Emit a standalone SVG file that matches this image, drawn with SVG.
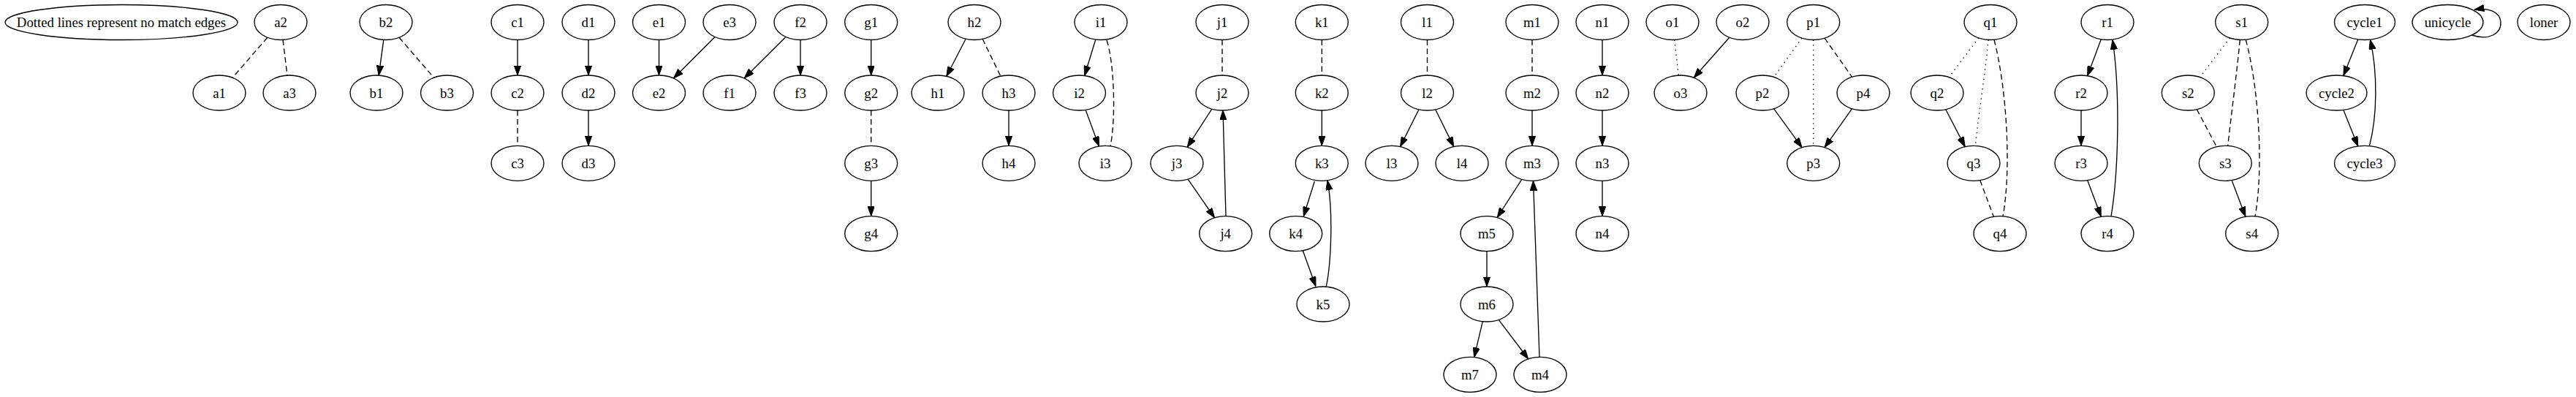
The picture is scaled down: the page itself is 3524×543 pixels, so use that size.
<svg xmlns="http://www.w3.org/2000/svg" width="3524" height="543" viewBox="0 0 3524 543">
<style>
.node ellipse{fill:#ffffff;stroke:#000000;stroke-width:1.34}
.node text{font-family:"Liberation Serif","Times New Roman",serif;font-size:18.8px;fill:#000000;text-anchor:middle}
#edges path{fill:none;stroke:#000000;stroke-width:1.34}
#edges .arr{marker-end:url(#ah)}
#edges .dash{stroke-dasharray:7.5,4.5}
#edges .dot{stroke-dasharray:1.4,5.3}
</style>
<defs>
<marker id="ah" viewBox="0 0 13.4 9.4" refX="13.4" refY="4.7" markerWidth="13.4" markerHeight="9.4" markerUnits="userSpaceOnUse" orient="auto">
<path d="M0,0 L13.4,4.7 L0,9.4 z" fill="#000000" stroke="#000000" stroke-width="1"/>
</marker>
</defs>
<rect width="3524" height="543" fill="#ffffff"/>
<g id="edges">
<path class="dash" d="M365.9,51.3 L318.1,106.2"/>
<path class="dash" d="M387,54.4 L393,103.1"/>
<path class="arr" d="M524.8,54.4 L518.2,103.1"/>
<path class="dash" d="M546,51.3 L593.5,106.2"/>
<path class="arr" d="M708,54.5 L708,103"/>
<path class="dash" d="M708,151 L708,199.3"/>
<path class="arr" d="M805,54.5 L805,103"/>
<path class="arr" d="M805,151 L805,199.3"/>
<path class="arr" d="M901.5,54.5 L901.5,103"/>
<path class="arr" d="M978,50.5 L921.5,107"/>
<path class="arr" d="M1074.9,50.5 L1018.1,107"/>
<path class="arr" d="M1095,54.5 L1095,103"/>
<path class="arr" d="M1191.7,54.5 L1191.7,103"/>
<path class="dash" d="M1191.7,151 L1191.7,199.3"/>
<path class="arr" d="M1191.7,247.3 L1191.7,295.6"/>
<path class="arr" d="M1321.2,53.2 L1294.8,104.3"/>
<path class="dash" d="M1344.1,53.3 L1368.9,104.2"/>
<path class="arr" d="M1380,151 L1380,199.3"/>
<path class="arr" d="M1498.8,54 L1483.7,103.5"/>
<path class="arr" d="M1485.1,150.3 L1503.4,200"/>
<path class="dash" d="M1514,55 C1524,85 1527,160 1519,200"/>
<path class="dash" d="M1672,54.5 L1672,103"/>
<path class="arr" d="M1657.8,149.1 L1624.2,201.2"/>
<path class="arr" d="M1625.1,245.1 L1661.6,297.8"/>
<path class="arr" d="M1677,295.6 L1673,151"/>
<path class="dash" d="M1808.3,54.5 L1808.3,103"/>
<path class="arr" d="M1808.3,151 L1808.3,199.3"/>
<path class="arr" d="M1798.3,248 L1783.3,296"/>
<path class="arr" d="M1782.3,342.7 L1800,391.7"/>
<path class="arr" d="M1814.3,391.7 C1821,360 1824,290 1816,246.7"/>
<path class="dash" d="M1952.5,54.5 L1952.5,103"/>
<path class="arr" d="M1941,149.7 L1915.5,200.6"/>
<path class="arr" d="M1963.7,149.7 L1988.8,200.6"/>
<path class="dash" d="M2096,54.5 L2096,103"/>
<path class="arr" d="M2096,151 L2096,199.3"/>
<path class="arr" d="M2081.8,245.4 L2048.2,297.5"/>
<path class="arr" d="M2034,343.6 L2034,392"/>
<path class="arr" d="M2028.3,439.7 L2016.7,488.7"/>
<path class="arr" d="M2050.2,437.4 L2090.8,491"/>
<path class="arr" d="M2106,488.4 L2097.5,247.3"/>
<path class="arr" d="M2192,54.5 L2192,103"/>
<path class="arr" d="M2192,151 L2192,199.3"/>
<path class="arr" d="M2192,247.3 L2192,295.6"/>
<path class="dot" d="M2290.7,54.5 L2296.3,103"/>
<path class="arr" d="M2365.8,51.2 L2317.2,106.3"/>
<path class="dot" d="M2465.1,52.1 L2426.6,105.4"/>
<path class="dot" d="M2480.7,54.5 L2480.7,199.3"/>
<path class="dash" d="M2496.1,52.2 L2533.6,105.3"/>
<path class="arr" d="M2426.6,148.6 L2465.1,201.7"/>
<path class="arr" d="M2533.6,148.7 L2496.1,201.6"/>
<path class="dot" d="M2706.8,51.9 L2666.2,105.6"/>
<path class="dot" d="M2720,54.5 C2716,100 2706,160 2702.5,199.3"/>
<path class="dash" d="M2728,54.5 C2745,120 2752,230 2740,295.8"/>
<path class="arr" d="M2661.8,149.7 L2688.2,200.6"/>
<path class="dash" d="M2708.7,246.6 L2727.3,296.3"/>
<path class="arr" d="M2874.3,53.8 L2855.7,103.7"/>
<path class="arr" d="M2847,151 L2847,199.3"/>
<path class="arr" d="M2855.7,246.6 L2874.3,296.3"/>
<path class="arr" d="M2888,296 C2899,230 2900,120 2890,54.5"/>
<path class="dot" d="M3050.4,51.9 L3009.6,105.6"/>
<path class="dash" d="M3064.3,54.5 C3060,100 3052,160 3047.7,199.5"/>
<path class="dash" d="M3072.3,54.5 C3090,120 3097,230 3085,295.8"/>
<path class="dash" d="M3005.3,149.6 L3032.3,200.7"/>
<path class="arr" d="M3053.1,246.6 L3071.9,296.3"/>
<path class="arr" d="M3225.7,53.9 L3205.9,103.6"/>
<path class="arr" d="M3205.9,150.4 C3213,168 3219,183 3225.7,199.9"/>
<path class="arr" d="M3241.4,199.5 C3252,160 3253,100 3242.5,54.4"/>
<path class="arr" d="M3381.5,48 C3405,56 3422,46 3421,30 C3420,16 3404,10 3385,13.2"/>
</g>
<g id="legend" class="node"><ellipse cx="166" cy="30.5" rx="159" ry="24"/><text x="166" y="37">Dotted lines represent no match edges</text></g>
<g id="a2" class="node"><ellipse cx="384" cy="30.5" rx="36" ry="24"/><text x="384" y="37">a2</text></g>
<g id="a1" class="node"><ellipse cx="300" cy="127" rx="36" ry="24"/><text x="300" y="133.5">a1</text></g>
<g id="a3" class="node"><ellipse cx="396" cy="127" rx="36" ry="24"/><text x="396" y="133.5">a3</text></g>
<g id="b2" class="node"><ellipse cx="528" cy="30.5" rx="36" ry="24"/><text x="528" y="37">b2</text></g>
<g id="b1" class="node"><ellipse cx="515" cy="127" rx="36" ry="24"/><text x="515" y="133.5">b1</text></g>
<g id="b3" class="node"><ellipse cx="611.5" cy="127" rx="36" ry="24"/><text x="611.5" y="133.5">b3</text></g>
<g id="c1" class="node"><ellipse cx="708" cy="30.5" rx="36" ry="24"/><text x="708" y="37">c1</text></g>
<g id="c2" class="node"><ellipse cx="708" cy="127" rx="36" ry="24"/><text x="708" y="133.5">c2</text></g>
<g id="c3" class="node"><ellipse cx="708" cy="223.3" rx="36" ry="24"/><text x="708" y="229.8">c3</text></g>
<g id="d1" class="node"><ellipse cx="805" cy="30.5" rx="36" ry="24"/><text x="805" y="37">d1</text></g>
<g id="d2" class="node"><ellipse cx="805" cy="127" rx="36" ry="24"/><text x="805" y="133.5">d2</text></g>
<g id="d3" class="node"><ellipse cx="805" cy="223.3" rx="36" ry="24"/><text x="805" y="229.8">d3</text></g>
<g id="e1" class="node"><ellipse cx="901.5" cy="30.5" rx="36" ry="24"/><text x="901.5" y="37">e1</text></g>
<g id="e3" class="node"><ellipse cx="998" cy="30.5" rx="36" ry="24"/><text x="998" y="37">e3</text></g>
<g id="e2" class="node"><ellipse cx="901.5" cy="127" rx="36" ry="24"/><text x="901.5" y="133.5">e2</text></g>
<g id="f2" class="node"><ellipse cx="1095" cy="30.5" rx="36" ry="24"/><text x="1095" y="37">f2</text></g>
<g id="f1" class="node"><ellipse cx="998" cy="127" rx="36" ry="24"/><text x="998" y="133.5">f1</text></g>
<g id="f3" class="node"><ellipse cx="1095" cy="127" rx="36" ry="24"/><text x="1095" y="133.5">f3</text></g>
<g id="g1" class="node"><ellipse cx="1191.7" cy="30.5" rx="36" ry="24"/><text x="1191.7" y="37">g1</text></g>
<g id="g2" class="node"><ellipse cx="1191.7" cy="127" rx="36" ry="24"/><text x="1191.7" y="133.5">g2</text></g>
<g id="g3" class="node"><ellipse cx="1191.7" cy="223.3" rx="36" ry="24"/><text x="1191.7" y="229.8">g3</text></g>
<g id="g4" class="node"><ellipse cx="1191.7" cy="319.6" rx="36" ry="24"/><text x="1191.7" y="326.1">g4</text></g>
<g id="h2" class="node"><ellipse cx="1333" cy="30.5" rx="36" ry="24"/><text x="1333" y="37">h2</text></g>
<g id="h1" class="node"><ellipse cx="1283" cy="127" rx="36" ry="24"/><text x="1283" y="133.5">h1</text></g>
<g id="h3" class="node"><ellipse cx="1380" cy="127" rx="36" ry="24"/><text x="1380" y="133.5">h3</text></g>
<g id="h4" class="node"><ellipse cx="1380" cy="223.3" rx="36" ry="24"/><text x="1380" y="229.8">h4</text></g>
<g id="i1" class="node"><ellipse cx="1506" cy="30.5" rx="36" ry="24"/><text x="1506" y="37">i1</text></g>
<g id="i2" class="node"><ellipse cx="1476.5" cy="127" rx="36" ry="24"/><text x="1476.5" y="133.5">i2</text></g>
<g id="i3" class="node"><ellipse cx="1512" cy="223.3" rx="36" ry="24"/><text x="1512" y="229.8">i3</text></g>
<g id="j1" class="node"><ellipse cx="1672" cy="30.5" rx="36" ry="24"/><text x="1672" y="37">j1</text></g>
<g id="j2" class="node"><ellipse cx="1672" cy="127" rx="36" ry="24"/><text x="1672" y="133.5">j2</text></g>
<g id="j3" class="node"><ellipse cx="1610" cy="223.3" rx="36" ry="24"/><text x="1610" y="229.8">j3</text></g>
<g id="j4" class="node"><ellipse cx="1676.7" cy="319.6" rx="36" ry="24"/><text x="1676.7" y="326.1">j4</text></g>
<g id="k1" class="node"><ellipse cx="1808.3" cy="30.5" rx="36" ry="24"/><text x="1808.3" y="37">k1</text></g>
<g id="k2" class="node"><ellipse cx="1808.3" cy="127" rx="36" ry="24"/><text x="1808.3" y="133.5">k2</text></g>
<g id="k3" class="node"><ellipse cx="1808.3" cy="223.3" rx="36" ry="24"/><text x="1808.3" y="229.8">k3</text></g>
<g id="k4" class="node"><ellipse cx="1772.7" cy="319.6" rx="36" ry="24"/><text x="1772.7" y="326.1">k4</text></g>
<g id="k5" class="node"><ellipse cx="1810" cy="416" rx="36" ry="24"/><text x="1810" y="422.5">k5</text></g>
<g id="l1" class="node"><ellipse cx="1952.5" cy="30.5" rx="36" ry="24"/><text x="1952.5" y="37">l1</text></g>
<g id="l2" class="node"><ellipse cx="1952.5" cy="127" rx="36" ry="24"/><text x="1952.5" y="133.5">l2</text></g>
<g id="l3" class="node"><ellipse cx="1904" cy="223.3" rx="36" ry="24"/><text x="1904" y="229.8">l3</text></g>
<g id="l4" class="node"><ellipse cx="2000" cy="223.3" rx="36" ry="24"/><text x="2000" y="229.8">l4</text></g>
<g id="m1" class="node"><ellipse cx="2096" cy="30.5" rx="36" ry="24"/><text x="2096" y="37">m1</text></g>
<g id="m2" class="node"><ellipse cx="2096" cy="127" rx="36" ry="24"/><text x="2096" y="133.5">m2</text></g>
<g id="m3" class="node"><ellipse cx="2096" cy="223.3" rx="36" ry="24"/><text x="2096" y="229.8">m3</text></g>
<g id="m5" class="node"><ellipse cx="2034" cy="319.6" rx="36" ry="24"/><text x="2034" y="326.1">m5</text></g>
<g id="m6" class="node"><ellipse cx="2034" cy="416" rx="36" ry="24"/><text x="2034" y="422.5">m6</text></g>
<g id="m7" class="node"><ellipse cx="2011" cy="512.4" rx="36" ry="24"/><text x="2011" y="518.9">m7</text></g>
<g id="m4" class="node"><ellipse cx="2107" cy="512.4" rx="36" ry="24"/><text x="2107" y="518.9">m4</text></g>
<g id="n1" class="node"><ellipse cx="2192" cy="30.5" rx="36" ry="24"/><text x="2192" y="37">n1</text></g>
<g id="n2" class="node"><ellipse cx="2192" cy="127" rx="36" ry="24"/><text x="2192" y="133.5">n2</text></g>
<g id="n3" class="node"><ellipse cx="2192" cy="223.3" rx="36" ry="24"/><text x="2192" y="229.8">n3</text></g>
<g id="n4" class="node"><ellipse cx="2192" cy="319.6" rx="36" ry="24"/><text x="2192" y="326.1">n4</text></g>
<g id="o1" class="node"><ellipse cx="2288" cy="30.5" rx="36" ry="24"/><text x="2288" y="37">o1</text></g>
<g id="o2" class="node"><ellipse cx="2384" cy="30.5" rx="36" ry="24"/><text x="2384" y="37">o2</text></g>
<g id="o3" class="node"><ellipse cx="2299" cy="127" rx="36" ry="24"/><text x="2299" y="133.5">o3</text></g>
<g id="p1" class="node"><ellipse cx="2480.7" cy="30.5" rx="36" ry="24"/><text x="2480.7" y="37">p1</text></g>
<g id="p2" class="node"><ellipse cx="2411" cy="127" rx="36" ry="24"/><text x="2411" y="133.5">p2</text></g>
<g id="p4" class="node"><ellipse cx="2549" cy="127" rx="36" ry="24"/><text x="2549" y="133.5">p4</text></g>
<g id="p3" class="node"><ellipse cx="2480.7" cy="223.3" rx="36" ry="24"/><text x="2480.7" y="229.8">p3</text></g>
<g id="q1" class="node"><ellipse cx="2723" cy="30.5" rx="36" ry="24"/><text x="2723" y="37">q1</text></g>
<g id="q2" class="node"><ellipse cx="2650" cy="127" rx="36" ry="24"/><text x="2650" y="133.5">q2</text></g>
<g id="q3" class="node"><ellipse cx="2700" cy="223.3" rx="36" ry="24"/><text x="2700" y="229.8">q3</text></g>
<g id="q4" class="node"><ellipse cx="2736" cy="319.6" rx="36" ry="24"/><text x="2736" y="326.1">q4</text></g>
<g id="r1" class="node"><ellipse cx="2883" cy="30.5" rx="36" ry="24"/><text x="2883" y="37">r1</text></g>
<g id="r2" class="node"><ellipse cx="2847" cy="127" rx="36" ry="24"/><text x="2847" y="133.5">r2</text></g>
<g id="r3" class="node"><ellipse cx="2847" cy="223.3" rx="36" ry="24"/><text x="2847" y="229.8">r3</text></g>
<g id="r4" class="node"><ellipse cx="2883" cy="319.6" rx="36" ry="24"/><text x="2883" y="326.1">r4</text></g>
<g id="s1" class="node"><ellipse cx="3066.7" cy="30.5" rx="36" ry="24"/><text x="3066.7" y="37">s1</text></g>
<g id="s2" class="node"><ellipse cx="2993.3" cy="127" rx="36" ry="24"/><text x="2993.3" y="133.5">s2</text></g>
<g id="s3" class="node"><ellipse cx="3044.3" cy="223.3" rx="36" ry="24"/><text x="3044.3" y="229.8">s3</text></g>
<g id="s4" class="node"><ellipse cx="3080.7" cy="319.6" rx="36" ry="24"/><text x="3080.7" y="326.1">s4</text></g>
<g id="cycle1" class="node"><ellipse cx="3235" cy="30.5" rx="41.5" ry="24"/><text x="3235" y="37">cycle1</text></g>
<g id="cycle2" class="node"><ellipse cx="3196.5" cy="127" rx="41.5" ry="24"/><text x="3196.5" y="133.5">cycle2</text></g>
<g id="cycle3" class="node"><ellipse cx="3235" cy="223.3" rx="41.5" ry="24"/><text x="3235" y="229.8">cycle3</text></g>
<g id="unicycle" class="node"><ellipse cx="3348.5" cy="30.5" rx="48.5" ry="24"/><text x="3348.5" y="37">unicycle</text></g>
<g id="loner" class="node"><ellipse cx="3480" cy="30.5" rx="36" ry="24"/><text x="3480" y="37">loner</text></g>
</svg>
